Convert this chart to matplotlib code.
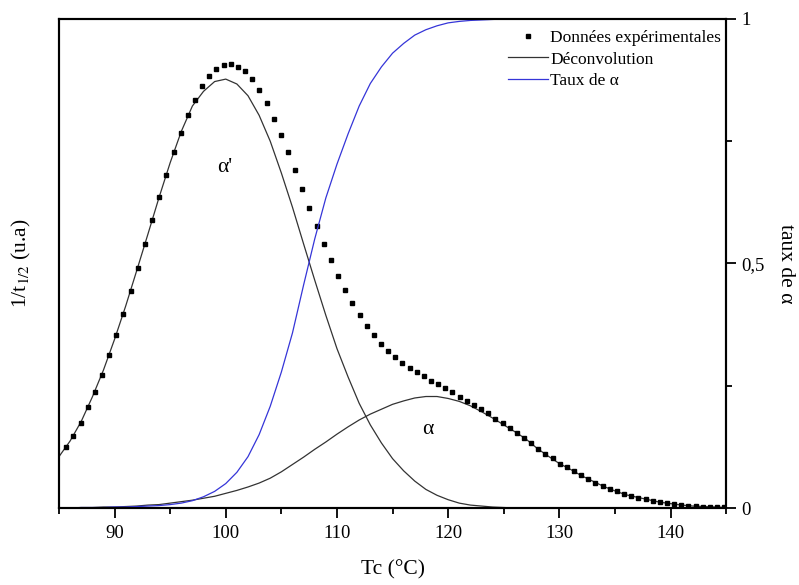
import matplotlib.pyplot as plt
from matplotlib.ticker import MultipleLocator, FixedLocator
from matplotlib.lines import Line2D

plt.rcParams['font.family'] = ['Liberation Serif', 'DejaVu Serif']
plt.rcParams['mathtext.fontset'] = 'stix'

# experimental points (1/t1/2, arbitrary units)
t_exp = [85.66, 86.30, 86.94, 87.59, 88.23, 88.87, 89.52, 90.16, 90.80, 91.45,
         92.09, 92.73, 93.38, 94.02, 94.66, 95.31, 95.95, 96.59, 97.23, 97.88,
         98.52, 99.16, 99.81, 100.45, 101.09, 101.74, 102.38, 103.02, 103.67, 104.31,
         104.95, 105.60, 106.24, 106.88, 107.53, 108.17, 108.81, 109.45, 110.10, 110.74,
         111.38, 112.03, 112.67, 113.31, 113.96, 114.60, 115.24, 115.89, 116.53, 117.17,
         117.82, 118.46, 119.10, 119.75, 120.39, 121.03, 121.67, 122.32, 122.96, 123.60,
         124.25, 124.89, 125.53, 126.18, 126.82, 127.46, 128.11, 128.75, 129.39, 130.04,
         130.68, 131.32, 131.97, 132.61, 133.25, 133.89, 134.54, 135.18, 135.82, 136.47,
         137.11, 137.75, 138.40, 139.04, 139.68, 140.33, 140.97, 141.61, 142.26, 142.90,
         143.54, 144.19, 144.83]
v_exp = [0.125, 0.148, 0.174, 0.206, 0.238, 0.273, 0.312, 0.354, 0.397, 0.444,
         0.491, 0.539, 0.588, 0.635, 0.681, 0.727, 0.766, 0.803, 0.834, 0.862,
         0.883, 0.898, 0.905, 0.907, 0.902, 0.893, 0.877, 0.854, 0.828, 0.796,
         0.763, 0.728, 0.691, 0.652, 0.614, 0.577, 0.540, 0.507, 0.475, 0.445,
         0.419, 0.394, 0.372, 0.353, 0.336, 0.322, 0.308, 0.297, 0.287, 0.278,
         0.269, 0.260, 0.253, 0.245, 0.237, 0.228, 0.219, 0.211, 0.202, 0.194,
         0.183, 0.173, 0.163, 0.153, 0.143, 0.132, 0.121, 0.110, 0.102, 0.091,
         0.083, 0.076, 0.067, 0.059, 0.052, 0.045, 0.039, 0.034, 0.029, 0.025,
         0.021, 0.018, 0.014, 0.012, 0.010, 0.008, 0.006, 0.005, 0.004, 0.003,
         0.003, 0.002, 0.002]

# deconvolution curves and alpha fraction, read every 1 °C from 85 to 145
t_curve = list(range(85, 146))
v_alpha_prime = [0.105, 0.137, 0.177, 0.227, 0.282, 0.345, 0.413, 0.486, 0.560, 0.635,
                 0.706, 0.770, 0.822, 0.852, 0.872, 0.877, 0.867, 0.843, 0.803, 0.750,
                 0.685, 0.615, 0.540, 0.466, 0.394, 0.326, 0.268, 0.214, 0.170, 0.133,
                 0.101, 0.076, 0.055, 0.038, 0.026, 0.017, 0.010, 0.006, 0.004, 0.002,
                 0.001, 0.0, 0.0, 0.0, 0.0, 0.0, 0.0, 0.0, 0.0, 0.0,
                 0.0, 0.0, 0.0, 0.0, 0.0, 0.0, 0.0, 0.0, 0.0, 0.0, 0.0]
v_alpha = [0.0, 0.0, 0.001, 0.001, 0.002, 0.002, 0.003, 0.004, 0.006, 0.007,
           0.010, 0.013, 0.016, 0.020, 0.024, 0.030, 0.036, 0.043, 0.051, 0.061,
           0.074, 0.089, 0.104, 0.120, 0.135, 0.151, 0.166, 0.180, 0.192, 0.202,
           0.212, 0.219, 0.225, 0.228, 0.228, 0.224, 0.218, 0.209, 0.197, 0.184,
           0.170, 0.156, 0.141, 0.122, 0.106, 0.091, 0.079, 0.066, 0.055, 0.044,
           0.035, 0.027, 0.022, 0.017, 0.012, 0.009, 0.006, 0.004, 0.003, 0.002, 0.001]
taux_alpha = [0.0, 0.0, 0.001, 0.001, 0.001, 0.002, 0.002, 0.003, 0.004, 0.005,
              0.007, 0.010, 0.015, 0.023, 0.034, 0.050, 0.073, 0.105, 0.150, 0.208,
              0.278, 0.358, 0.456, 0.550, 0.634, 0.703, 0.765, 0.822, 0.868, 0.902,
              0.930, 0.950, 0.967, 0.978, 0.986, 0.992, 0.995, 0.997, 0.998, 0.999,
              1.0, 1.0, 1.0, 1.0, 1.0, 1.0, 1.0, 1.0, 1.0, 1.0,
              1.0, 1.0, 1.0, 1.0, 1.0, 1.0, 1.0, 1.0, 1.0, 1.0, 1.0]

line_col = '#333333'
blue_col = '#3535d8'

fig = plt.figure(figsize=(7.99, 5.85), dpi=100)
ax = fig.add_axes([0.0738, 0.1316, 0.835, 0.836])
ax2 = ax.twinx()

ax.plot(t_curve, v_alpha_prime, color=line_col, lw=0.9)
ax.plot(t_curve, v_alpha, color=line_col, lw=0.9)
ax.plot(t_exp, v_exp, ls='none', marker='s', ms=2.4, color='black')
ax2.plot(t_curve, taux_alpha, color=blue_col, lw=0.9)

ax.set_xlim(85, 145)
ax.set_ylim(0, 1)
ax2.set_ylim(0, 1)

for a in (ax, ax2):
    for s in a.spines.values():
        s.set_linewidth(1.5)

ax.xaxis.set_major_locator(MultipleLocator(10))
ax.xaxis.set_minor_locator(MultipleLocator(5))
ax.tick_params(axis='x', which='major', direction='out', length=7, width=1.3, labelsize=13.5, pad=5)
ax.tick_params(axis='x', which='minor', direction='out', length=4, width=1.3)
ax.tick_params(axis='y', which='both', left=False, labelleft=False)

ax2.yaxis.set_major_locator(FixedLocator([0, 0.5, 1]))
ax2.yaxis.set_minor_locator(FixedLocator([0.25, 0.75]))
ax2.set_yticklabels(['0', '0,5', '1'])
ax2.tick_params(axis='y', which='major', direction='out', length=7, width=1.3, labelsize=13.5, pad=4)
ax2.tick_params(axis='y', which='minor', direction='out', length=4, width=1.3)

ax.set_xlabel('Tc (°C)', fontsize=15.5, labelpad=13)
ax.set_ylabel('1/t$_{1/2}$ (u.a)', fontsize=15.5, labelpad=19)
ax2.set_ylabel('taux de α', fontsize=15.5, rotation=270, labelpad=22)

ax.text(99.9, 0.697, "α'", fontsize=15.5, ha='center', va='center')
ax.text(118.2, 0.16, 'α', fontsize=15.5, ha='center', va='center')

handles = [Line2D([], [], ls='none', marker='s', ms=2.4, color='black'),
           Line2D([], [], color=line_col, lw=0.9),
           Line2D([], [], color=blue_col, lw=0.9)]
labels = ['Données expérimentales', 'Déconvolution', 'Taux de α']
ax.legend(handles, labels, loc='upper right', frameon=False, fontsize=12.5,
          handlelength=2.3, handletextpad=0.1, labelspacing=0.3,
          borderaxespad=0.0, borderpad=0.3, bbox_to_anchor=(1.0, 0.988))

fig.savefig('out.png', dpi=100)
